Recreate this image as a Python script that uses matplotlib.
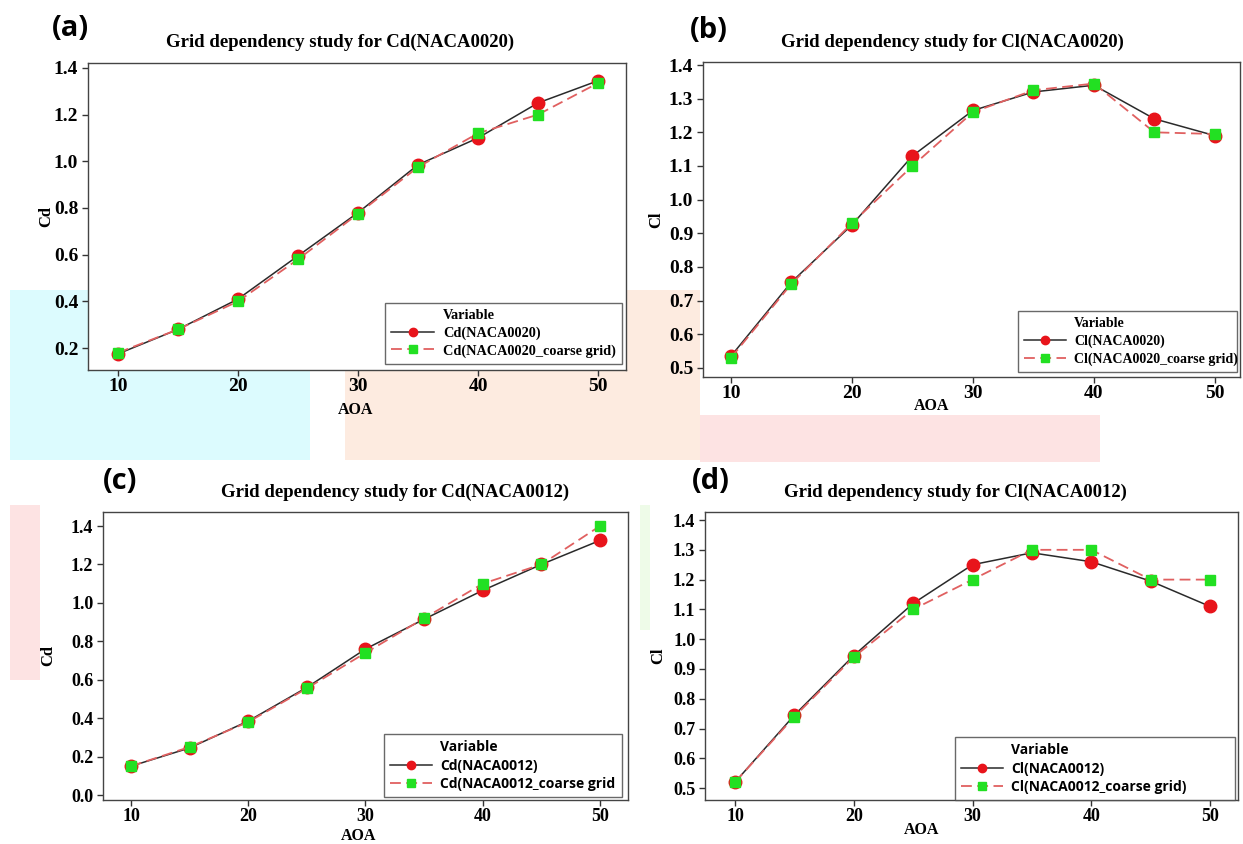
import matplotlib
matplotlib.use("Agg")
import matplotlib.pyplot as plt
from matplotlib.patches import Rectangle
from matplotlib.lines import Line2D

W, H = 1243, 844

aoa = [10, 15, 20, 25, 30, 35, 40, 45, 50]

cd20_fine = [0.175, 0.28, 0.41, 0.595, 0.78, 0.985, 1.10, 1.25, 1.345]
cd20_coarse = [0.18, 0.28, 0.40, 0.58, 0.775, 0.975, 1.12, 1.20, 1.335]

cl20_fine = [0.535, 0.755, 0.925, 1.13, 1.265, 1.32, 1.34, 1.24, 1.19]
cl20_coarse = [0.53, 0.75, 0.93, 1.10, 1.26, 1.325, 1.345, 1.20, 1.195]

cd12_fine = [0.15, 0.245, 0.385, 0.56, 0.76, 0.915, 1.065, 1.20, 1.325]
cd12_coarse = [0.15, 0.25, 0.38, 0.555, 0.74, 0.92, 1.10, 1.20, 1.40]

cl12_fine = [0.52, 0.745, 0.945, 1.12, 1.25, 1.29, 1.26, 1.195, 1.11]
cl12_coarse = [0.52, 0.74, 0.94, 1.10, 1.20, 1.30, 1.30, 1.20, 1.20]

titles = ["Grid dependency study for Cd(NACA0020)",
          "Grid dependency study for Cl(NACA0020)",
          "Grid dependency study for Cd(NACA0012)",
          "Grid dependency study for Cl(NACA0012)"]
ylabels = ["Cd", "Cl", "Cd", "Cl"]
panel_tags = ["(a)", "(b)", "(c)", "(d)"]
legend_fine = ["Cd(NACA0020)", "Cl(NACA0020)", "Cd(NACA0012)", "Cl(NACA0012)"]
legend_coarse = ["Cd(NACA0020_coarse grid)", "Cl(NACA0020_coarse grid)",
                 "Cd(NACA0012_coarse grid", "Cl(NACA0012_coarse grid)"]
xticks = [10, 20, 30, 40, 50]
yticks_cd20 = [0.2, 0.4, 0.6, 0.8, 1.0, 1.2, 1.4]
yticks_cl = [0.5, 0.6, 0.7, 0.8, 0.9, 1.0, 1.1, 1.2, 1.3, 1.4]
yticks_cd12 = [0.0, 0.2, 0.4, 0.6, 0.8, 1.0, 1.2, 1.4]

fig = plt.figure(figsize=(W / 100, H / 100), dpi=100)
fig.patch.set_facecolor("white")

# faint watermark shapes in the background
bg = [
    ((10, 290, 310, 460), "#dcfbfe"),
    ((345, 290, 640, 460), "#fdebe0"),
    ((640, 290, 700, 460), "#fdebe0"),
    ((700, 415, 1100, 462), "#fde3e3"),
    ((10, 505, 40, 680), "#fde3e3"),
    ((640, 505, 650, 630), "#eefbe8"),
]
for (l, t, r, b), c in bg:
    fig.patches.append(Rectangle((l / W, 1 - b / H), (r - l) / W, (b - t) / H,
                                 transform=fig.transFigure, facecolor=c,
                                 edgecolor="none", zorder=0))


def rect(l, t, r, b):
    return [l / W, 1 - b / H, (r - l) / W, (b - t) / H]


serif = ["Liberation Serif", "DejaVu Serif"]
sans = ["Open Sans", "DejaVu Sans"]

panels = [
    dict(box=(88, 63, 626, 370), xlim=(7.5, 52.33), ylim=(0.106, 1.421),
         yt=yticks_cd20, fine=cd20_fine, coarse=cd20_coarse, tickfs=14,
         leg=(385, 300, 622, 364), legfam=serif, legfs=10.3,
         title_xy=(340, 42), tag_xy=(52, 28), xl_xy=(356, 410), yl_x=46),
    dict(box=(703, 62, 1240, 377), xlim=(7.69, 52.07), ylim=(0.473, 1.409),
         yt=yticks_cl, fine=cl20_fine, coarse=cl20_coarse, tickfs=14,
         leg=(1018, 316, 1237, 372), legfam=serif, legfs=10,
         title_xy=(952, 42), tag_xy=(690, 30), xl_xy=(932, 406), yl_x=656),
    dict(box=(103, 512, 628, 800), xlim=(7.61, 52.39), ylim=(-0.026, 1.473),
         yt=yticks_cd12, fine=cd12_fine, coarse=cd12_coarse, tickfs=13,
         leg=(384, 730, 622, 797), legfam=sans, legfs=10,
         title_xy=(395, 492), tag_xy=(103, 482), xl_xy=(359, 836), yl_x=48),
    dict(box=(705, 512, 1238, 800), xlim=(7.47, 52.36), ylim=(0.46, 1.427),
         yt=yticks_cl, fine=cl12_fine, coarse=cl12_coarse, tickfs=13,
         leg=(955, 730, 1235, 800), legfam=sans, legfs=10,
         title_xy=(955, 492), tag_xy=(692, 482), xl_xy=(922, 830), yl_x=658),
]

for i, p in enumerate(panels):
    ax = fig.add_axes(rect(*p["box"]))
    ax.set_facecolor("white")
    ax.set_zorder(2)
    ax.plot(aoa, p["fine"], color="#2a2a2a", lw=1.1, marker="o", ms=9,
            mfc="#e8141b", mec="#e8141b", zorder=3)
    ax.plot(aoa, p["coarse"], color="#e06060", lw=1.3, ls=(0, (6, 3)),
            marker="s", ms=7.5, mfc="#22e022", mec="#22e022", zorder=4)
    ax.set_xlim(*p["xlim"])
    ax.set_ylim(*p["ylim"])
    ax.set_xticks(xticks)
    ax.set_yticks(p["yt"])
    ax.set_xticklabels([str(v) for v in xticks], family=serif,
                       fontweight="bold", fontsize=p["tickfs"])
    ax.set_yticklabels([f"{v:.1f}" for v in p["yt"]], family=serif,
                       fontweight="bold", fontsize=p["tickfs"])
    ax.tick_params(direction="out", length=4, width=1, color="#333333", pad=3)
    ax.tick_params(axis="x", pad=2)
    for s in ax.spines.values():
        s.set_color("#444444")
        s.set_linewidth(1.0)

    fig.text(p["title_xy"][0] / W, 1 - p["title_xy"][1] / H, titles[i],
             ha="center", va="center", family=serif, fontweight="bold",
             fontsize=13.5)
    fig.text(p["tag_xy"][0] / W, 1 - p["tag_xy"][1] / H, panel_tags[i],
             ha="left", va="center", family=sans, fontweight="bold",
             fontsize=21)
    fig.text(p["xl_xy"][0] / W, 1 - p["xl_xy"][1] / H, "AOA",
             ha="center", va="center", family=serif, fontweight="bold",
             fontsize=11.5)
    fig.text(p["yl_x"] / W, 1 - (p["box"][1] + p["box"][3]) / 2 / H,
             ylabels[i], ha="center", va="center", rotation=90,
             family=serif, fontweight="bold", fontsize=12)

    handles = [
        Line2D([], [], color="none", label="Variable"),
        Line2D([], [], color="#2a2a2a", lw=1.1, marker="o", ms=6,
               mfc="#e8141b", mec="#e8141b", label=legend_fine[i]),
        Line2D([], [], color="#e06060", lw=1.3, ls=(0, (6, 3)), marker="s",
               ms=6, mfc="#22e022", mec="#22e022", label=legend_coarse[i]),
    ]
    l, t, r, b = p["leg"]
    bl, tl, rl, bbm = p["box"]
    anchor = ((l - bl) / (rl - bl), 1 - (b - tl) / (bbm - tl),
              (r - l) / (rl - bl), (b - t) / (bbm - tl))
    leg = ax.legend(handles=handles, loc="lower left", bbox_to_anchor=anchor,
                    mode="expand", frameon=True, fancybox=False,
                    borderaxespad=0, handlelength=3.0, handletextpad=0.6,
                    labelspacing=0.3, borderpad=0.45,
                    prop=dict(family=p["legfam"], weight="bold",
                              size=p["legfs"]))
    leg.get_frame().set_edgecolor("#444444")
    leg.get_frame().set_linewidth(1.0)

fig.savefig("out.png", dpi=100, facecolor="white")
